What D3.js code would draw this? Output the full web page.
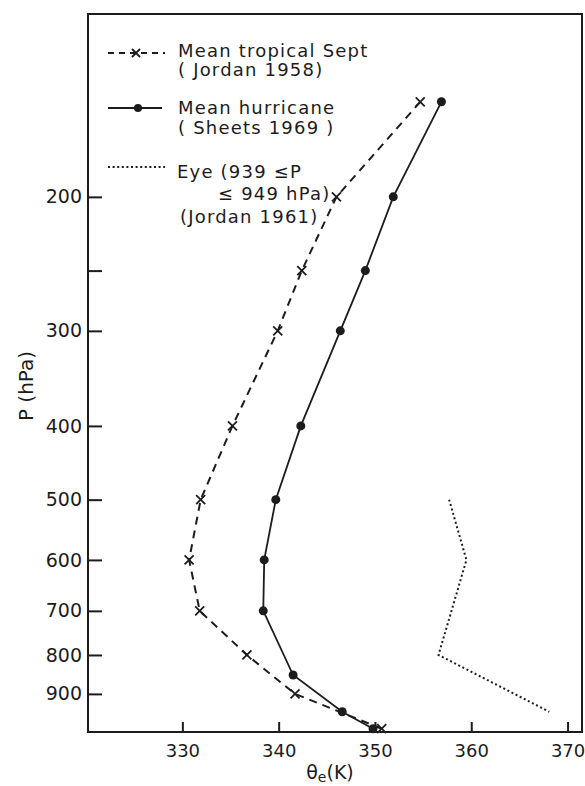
<!DOCTYPE html>
<html>
<head>
<meta charset="utf-8">
<script src="https://cdn.jsdelivr.net/npm/d3@7"></script>
<style>
  body { margin: 0; background: #fff; }
  svg text { font-family: "DejaVu Sans", sans-serif; fill: #1c1c1c; }
</style>
</head>
<body>
<svg width="585" height="786"></svg>
<script>
// pressure levels (hPa) and equivalent potential temperature (K)
var tropicalP = [150, 200, 250, 300, 400, 500, 600, 700, 800, 900, 1000];
var tropicalTheta = [354.7, 346.0, 342.4, 339.9, 335.2, 331.9, 330.7, 331.8, 336.7, 341.7, 350.7];

var hurricaneP = [150, 200, 250, 300, 400, 500, 600, 700, 850, 950, 1000];
var hurricaneTheta = [356.9, 351.9, 349.0, 346.4, 342.3, 339.7, 338.5, 338.4, 341.5, 346.6, 349.8];

var eyeP = [500, 600, 800, 950];
var eyeTheta = [357.7, 359.5, 356.6, 368.1];

var yTicks = [200, 250, 300, 400, 500, 600, 700, 800, 900];
var yLabels = ['200', '', '300', '400', '500', '600', '700', '800', '900'];
var xTicks = [330, 340, 350, 360, 370];

var ink = '#1c1c1c';
var svg = d3.select('svg');

var plotL = 88, plotR = 582, plotT = 14, plotB = 732;

var x = d3.scaleLinear()
  .domain([320.2, 371.5])
  .range([plotL, plotR]);

var y = d3.scaleLog()
  .domain([115, 1010])
  .range([plotT, plotB]);

function pts(ps, ts) {
  return ps.map(function(p, i) { return { p: p, t: ts[i] }; });
}
var tropical = pts(tropicalP, tropicalTheta);
var hurricane = pts(hurricaneP, hurricaneTheta);
var eye = pts(eyeP, eyeTheta);

// frame
svg.append('rect')
  .attr('x', plotL).attr('y', plotT)
  .attr('width', plotR - plotL).attr('height', plotB - plotT)
  .attr('fill', 'none').attr('stroke', ink).attr('stroke-width', 2);

// axes
var yAxis = d3.axisLeft(y)
  .tickValues(yTicks)
  .tickFormat(function(d, i) { return yLabels[i]; })
  .tickSizeInner(-14).tickSizeOuter(0).tickPadding(6);

svg.append('g')
  .attr('transform', 'translate(' + plotL + ',0)')
  .call(yAxis)
  .call(function(g) {
    g.select('.domain').remove();
    g.selectAll('line').attr('stroke', ink).attr('stroke-width', 2);
    g.selectAll('text').attr('font-size', 19).attr('fill', ink)
      .style('font-family', '"DejaVu Sans", sans-serif');
  });

var xAxis = d3.axisBottom(x)
  .tickValues(xTicks)
  .tickSizeInner(-10).tickSizeOuter(0).tickPadding(12);

svg.append('g')
  .attr('transform', 'translate(0,' + plotB + ')')
  .call(xAxis)
  .call(function(g) {
    g.select('.domain').remove();
    g.selectAll('line').attr('stroke', ink).attr('stroke-width', 2);
    g.selectAll('text').attr('font-size', 18).attr('fill', ink)
      .style('font-family', '"DejaVu Sans", sans-serif');
  });

// axis titles
svg.append('text')
  .attr('transform', 'translate(33,386) rotate(-90)')
  .attr('text-anchor', 'middle')
  .attr('font-size', 20)
  .text('P (hPa)');

var xt = svg.append('text')
  .attr('x', 330).attr('y', 779)
  .attr('text-anchor', 'middle')
  .attr('font-size', 19);
xt.append('tspan').text('θ');
xt.append('tspan').attr('font-size', 14).attr('dy', 3).text('e');
xt.append('tspan').attr('dy', -3).text('(K)');

var line = d3.line()
  .x(function(d) { return x(d.t); })
  .y(function(d) { return y(d.p); });

// mean tropical: dashed with x marks
svg.append('path')
  .datum(tropical)
  .attr('d', line)
  .attr('fill', 'none').attr('stroke', ink)
  .attr('stroke-width', 2).attr('stroke-dasharray', '8,6');

function cross(g, cx, cy, s) {
  g.append('path')
    .attr('d', 'M' + (cx - s) + ',' + (cy - s) + 'L' + (cx + s) + ',' + (cy + s) +
      'M' + (cx + s) + ',' + (cy - s) + 'L' + (cx - s) + ',' + (cy + s))
    .attr('stroke', ink).attr('stroke-width', 1.8).attr('fill', 'none');
}
var marks = svg.append('g');
tropical.forEach(function(d) { cross(marks, x(d.t), y(d.p), 4.5); });

// mean hurricane: solid with dots
svg.append('path')
  .datum(hurricane)
  .attr('d', line)
  .attr('fill', 'none').attr('stroke', ink).attr('stroke-width', 1.8);

svg.append('g').selectAll('circle')
  .data(hurricane)
  .enter().append('circle')
  .attr('cx', function(d) { return x(d.t); })
  .attr('cy', function(d) { return y(d.p); })
  .attr('r', 4.5)
  .attr('fill', ink);

// eye: dotted
svg.append('path')
  .datum(eye)
  .attr('d', line)
  .attr('fill', 'none').attr('stroke', ink)
  .attr('stroke-width', 2).attr('stroke-dasharray', '2,2.6');

// legend
var lg = svg.append('g');
lg.append('line').attr('x1', 108).attr('x2', 165).attr('y1', 53).attr('y2', 53)
  .attr('stroke', ink).attr('stroke-width', 2).attr('stroke-dasharray', '6,5');
cross(lg, 136, 53, 4);
lg.append('line').attr('x1', 108).attr('x2', 162).attr('y1', 108).attr('y2', 108)
  .attr('stroke', ink).attr('stroke-width', 1.8);
lg.append('circle').attr('cx', 138).attr('cy', 108).attr('r', 4).attr('fill', ink);
lg.append('line').attr('x1', 108).attr('x2', 165).attr('y1', 167).attr('y2', 167)
  .attr('stroke', ink).attr('stroke-width', 2).attr('stroke-dasharray', '2,2.6');

var legendText = [
  { t: 'Mean tropical Sept', x: 178, y: 57 },
  { t: '( Jordan 1958)', x: 178, y: 76 },
  { t: 'Mean hurricane', x: 178, y: 114 },
  { t: '( Sheets 1969 )', x: 178, y: 134 },
  { t: 'Eye (939 ≤P', x: 177, y: 178 },
  { t: '≤ 949 hPa)', x: 218, y: 200 },
  { t: '(Jordan 1961)', x: 180, y: 223 }
];
lg.selectAll('text.lt')
  .data(legendText)
  .enter().append('text')
  .attr('class', 'lt')
  .attr('x', function(d) { return d.x; })
  .attr('y', function(d) { return d.y; })
  .attr('font-size', 18)
  .attr('letter-spacing', 1.2)
  .text(function(d) { return d.t; });
</script>
</body>
</html>
